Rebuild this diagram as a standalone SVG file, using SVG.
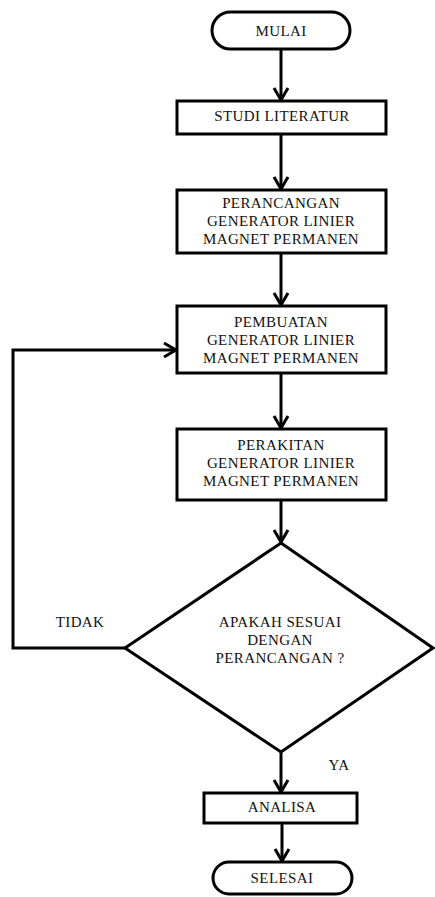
<svg xmlns="http://www.w3.org/2000/svg" width="435" height="897" viewBox="0 0 435 897">
<defs>
<style>
.shape{fill:#fff;stroke:#000;stroke-width:3}
.conn{fill:none;stroke:#000;stroke-width:3}
text{font-family:"Liberation Serif","Times New Roman",serif;font-size:15px;fill:#111;text-anchor:middle;letter-spacing:0.4px}
</style>
<marker id="arr" markerWidth="20" markerHeight="20" viewBox="-16 -10 20 20" refX="1" refY="0" orient="auto" markerUnits="userSpaceOnUse">
<path d="M-12,-7 L0,0 L-12,7" fill="none" stroke="#000" stroke-width="3"/>
</marker>
</defs>
<rect width="435" height="897" fill="#fff"/>
<g id="connectors">
<line class="conn" x1="281" y1="49" x2="281" y2="101" marker-end="url(#arr)"/>
<line class="conn" x1="281" y1="134" x2="281" y2="190" marker-end="url(#arr)"/>
<line class="conn" x1="281" y1="253" x2="281" y2="306" marker-end="url(#arr)"/>
<line class="conn" x1="281" y1="373" x2="281" y2="429" marker-end="url(#arr)"/>
<line class="conn" x1="281" y1="500" x2="281" y2="543" marker-end="url(#arr)"/>
<line class="conn" x1="281" y1="752" x2="281" y2="793" marker-end="url(#arr)"/>
<line class="conn" x1="282" y1="823" x2="282" y2="862" marker-end="url(#arr)"/>
<polyline class="conn" points="125,648 13,648 13,350 177,350" marker-end="url(#arr)"/>
<text x="80" y="627">TIDAK</text>
<text x="339" y="770">YA</text>
</g>
<g id="mulai">
<rect class="shape" x="212" y="12" width="138" height="37" rx="18.5"/>
<text x="281" y="36">MULAI</text>
</g>
<g id="studi">
<rect class="shape" x="177" y="101" width="209" height="33"/>
<text x="282" y="121">STUDI LITERATUR</text>
</g>
<g id="perancangan">
<rect class="shape" x="177" y="190" width="209" height="63"/>
<text x="281" y="208">PERANCANGAN</text>
<text x="281" y="226">GENERATOR LINIER</text>
<text x="281" y="244">MAGNET PERMANEN</text>
</g>
<g id="pembuatan">
<rect class="shape" x="177" y="306" width="209" height="67"/>
<text x="281" y="327">PEMBUATAN</text>
<text x="281" y="345">GENERATOR LINIER</text>
<text x="281" y="363">MAGNET PERMANEN</text>
</g>
<g id="perakitan">
<rect class="shape" x="177" y="429" width="209" height="71"/>
<text x="281" y="450">PERAKITAN</text>
<text x="281" y="468">GENERATOR LINIER</text>
<text x="281" y="486">MAGNET PERMANEN</text>
</g>
<g id="keputusan">
<polygon class="shape" points="281,543 433,648 281,752 125,648"/>
<text x="280" y="627">APAKAH SESUAI</text>
<text x="280" y="645">DENGAN</text>
<text x="280" y="663">PERANCANGAN ?</text>
</g>
<g id="analisa">
<rect class="shape" x="204" y="793" width="153" height="30"/>
<text x="282" y="812">ANALISA</text>
</g>
<g id="selesai">
<rect class="shape" x="213" y="862" width="139" height="32" rx="16"/>
<text x="282" y="883">SELESAI</text>
</g>
</svg>
